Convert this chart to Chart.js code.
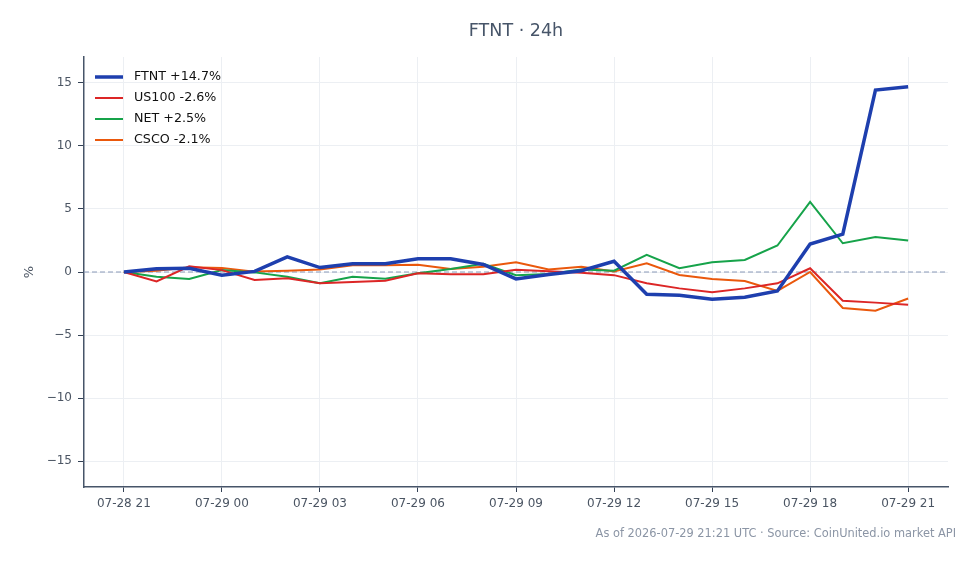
<!DOCTYPE html>
<html>
<head>
<meta charset="utf-8">
<script src="https://cdn.jsdelivr.net/npm/chart.js@4.4.1/dist/chart.umd.min.js"></script>
<style>
  html, body { margin: 0; padding: 0; background: #fff; }
  body { width: 979px; height: 564px; position: relative; overflow: hidden; font-family: "DejaVu Sans", sans-serif; }
  #wrap { position: absolute; left: 0; top: 0; width: 979px; height: 564px; }
  #title { position: absolute; left: 84px; width: 864px; top: 20px; text-align: center; font-size: 17.5px; color: #475569; }
  #footer { position: absolute; right: 23px; top: 526px; font-size: 11.4px; color: #8b95a5; }
</style>
</head>
<body>
<div id="wrap"><canvas id="chart" width="979" height="564"></canvas></div>
<div id="title">FTNT · 24h</div>
<div id="footer">As of 2026-07-29 21:21 UTC · Source: CoinUnited.io market API</div>
<script>
// ── Data ─────────────────────────────────────────────────────
const hours      = [0, 1, 2, 3, 4, 5, 6, 7, 8, 9, 10, 11, 12, 13, 14, 15, 16, 17, 18, 19, 20, 21, 22, 23, 24];
const tickHours  = [0, 3, 6, 9, 12, 15, 18, 21, 24];
const tickLabels = ['07-28 21', '07-29 00', '07-29 03', '07-29 06', '07-29 09', '07-29 12', '07-29 15', '07-29 18', '07-29 21'];
const yTicks     = [-15, -10, -5, 0, 5, 10, 15];

const ftnt  = [0, 0.25, 0.3, -0.25, 0.05, 1.2, 0.35, 0.65, 0.65, 1.05, 1.05, 0.6, -0.55, -0.2, 0.1, 0.85, -1.77, -1.85, -2.17, -2.0, -1.5, 2.22, 3.0, 14.44, 14.7];
const us100 = [0, -0.75, 0.45, 0.15, -0.63, -0.5, -0.9, -0.8, -0.7, -0.1, -0.18, -0.18, 0.18, 0.05, -0.05, -0.25, -0.9, -1.3, -1.6, -1.3, -0.9, 0.3, -2.28, -2.43, -2.6];
const net   = [0, -0.37, -0.55, 0.15, -0.03, -0.37, -0.9, -0.37, -0.53, -0.1, 0.24, 0.66, -0.25, -0.16, 0.2, 0.1, 1.37, 0.3, 0.77, 0.95, 2.1, 5.56, 2.28, 2.78, 2.5];
const csco  = [0, 0.1, 0.37, 0.32, 0.03, 0.1, 0.2, 0.53, 0.53, 0.58, 0.24, 0.42, 0.78, 0.2, 0.42, 0.05, 0.69, -0.24, -0.55, -0.71, -1.5, 0.0, -2.86, -3.07, -2.1];

const seriesNames  = ['FTNT +14.7%', 'US100 -2.6%', 'NET +2.5%', 'CSCO -2.1%'];
const seriesData   = [ftnt, us100, net, csco];
const seriesColors = ['#1e3fae', '#dc2626', '#16a34a', '#ea580c'];
const seriesWidths = [3.5, 2, 2, 2];

// ── Plugins ──────────────────────────────────────────────────
const zeroLine = {
  id: 'zeroLine',
  beforeDatasetsDraw(chart) {
    const { ctx, chartArea, scales } = chart;
    const y = scales.y.getPixelForValue(0);
    ctx.save();
    ctx.strokeStyle = '#8a9ab8';
    ctx.lineWidth = 1;
    ctx.setLineDash([5, 3]);
    ctx.beginPath();
    ctx.moveTo(chartArea.left, y);
    ctx.lineTo(chartArea.right, y);
    ctx.stroke();
    ctx.restore();
  }
};

const innerLegend = {
  id: 'innerLegend',
  afterDraw(chart) {
    const { ctx, chartArea } = chart;
    ctx.save();
    ctx.font = '12.7px "DejaVu Sans", sans-serif';
    ctx.textBaseline = 'middle';
    chart.data.datasets.forEach((ds, i) => {
      const y = chartArea.top + 20 + i * 21;
      const x = chartArea.left + 11;
      ctx.strokeStyle = ds.borderColor;
      ctx.lineWidth = ds.borderWidth;
      ctx.setLineDash([]);
      ctx.beginPath();
      ctx.moveTo(x, y);
      ctx.lineTo(x + 28, y);
      ctx.stroke();
      ctx.fillStyle = '#111';
      ctx.fillText(ds.label, x + 39, y);
    });
    ctx.restore();
  }
};

// ── Chart ────────────────────────────────────────────────────
const ctx = document.getElementById('chart').getContext('2d');
new Chart(ctx, {
  type: 'line',
  data: {
    datasets: seriesData.map((vals, i) => ({
      label: seriesNames[i],
      data: hours.map((h, j) => ({ x: h, y: vals[j] })),
      borderColor: seriesColors[i],
      backgroundColor: seriesColors[i],
      borderWidth: seriesWidths[i],
      pointRadius: 0,
      tension: 0,
      order: i,
    }))
  },
  options: {
    responsive: false,
    animation: false,
    events: [],
    layout: { padding: { top: 57, right: 31, left: 0, bottom: 0 } },
    plugins: {
      legend: { display: false },
      title: { display: false },
      tooltip: { enabled: false },
    },
    scales: {
      x: {
        type: 'linear',
        min: -1.22,
        max: 25.22,
        afterBuildTicks: s => { s.ticks = tickHours.map(v => ({ value: v })); },
        afterFit: s => { s.height = 77; },
        ticks: {
          color: '#4b5563',
          font: { family: 'DejaVu Sans', size: 12 },
          padding: 5,
          maxRotation: 0,
          callback: v => tickLabels[tickHours.indexOf(v)],
        },
        grid: { color: '#eceff3', tickColor: '#334155', tickLength: 5 },
        border: { color: '#475569', width: 1.5 },
      },
      y: {
        min: -17.06,
        max: 17.06,
        afterBuildTicks: s => { s.ticks = yTicks.map(v => ({ value: v })); },
        afterFit: s => { s.width = 84; },
        ticks: {
          color: '#4b5563',
          font: { family: 'DejaVu Sans', size: 12 },
          padding: 6,
          callback: v => (v < 0 ? '\u2212' + Math.abs(v) : String(v)),
        },
        grid: { color: '#eceff3', tickColor: '#334155', tickLength: 6 },
        border: { color: '#475569', width: 1.5 },
        title: {
          display: true,
          text: '%',
          color: '#4b5563',
          font: { family: 'DejaVu Sans', size: 13 },
          padding: { top: 22, bottom: 0 },
        },
      }
    }
  },
  plugins: [zeroLine, innerLegend]
});
</script>
</body>
</html>
